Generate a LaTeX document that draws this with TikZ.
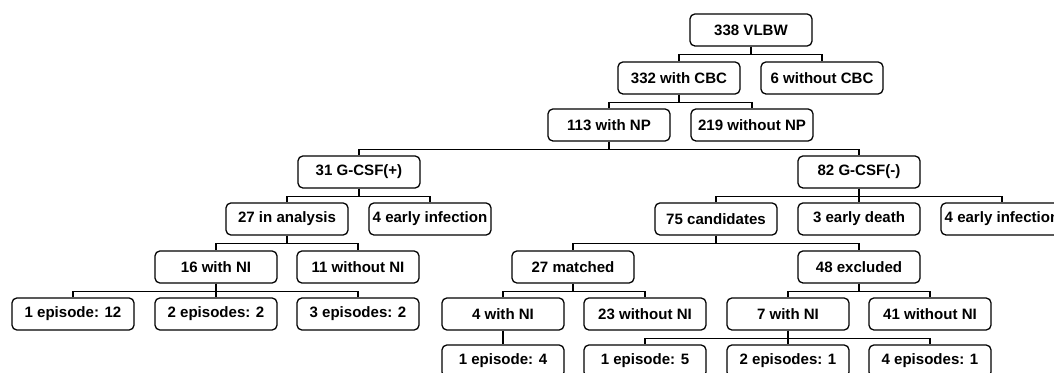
\documentclass[tikz,border=0pt]{standalone}
\usepackage{fontspec}
\setmainfont{Liberation Sans}
\usetikzlibrary{calc}

\begin{document}
\begin{tikzpicture}[x=0.025cm, y=-0.025cm,
		every node/.style={font=\bfseries\fontsize{10.7}{12}\selectfont},
		box/.style={draw, line width=0.9pt, rounded corners=3.5pt, minimum width=3.05cm, minimum height=0.8cm, inner sep=0pt},
		link/.style={line width=0.9pt}]
				\useasboundingbox (0,0) rectangle (1054,373);
				\clip (0,0) rectangle (1054,373);
				% top of the tree
				\node[box] (vlbw) at (751,30) {338 VLBW};
				\node[box] (cbc) at (679,78) {332 with CBC};
				\node[box] (nocbc) at (822,78) {6 without CBC};
				\node[box] (np) at (609,125) {113 with NP};
				\node[box] (nonp) at (752,125) {219 without NP};
				\node[box] (gplus) at (359,172) {31 G-CSF(+)};
				\node[box] (gminus) at (859,172) {82 G-CSF(-)};
				% G-CSF(+) branch
				\node[box] (analysis) at (287,219) {27 in analysis};
				\node[box] (infA) at (430,219) {4 early infection};
				\node[box] (niA) at (216,267) {16 with NI};
				\node[box] (noniA) at (358,267) {11 without NI};
				\node[box] (epA1) at (73,314) {1 episode: 12};
				\node[box] (epA2) at (216,314) {2 episodes: 2};
				\node[box] (epA3) at (358,314) {3 episodes: 2};
				% G-CSF(-) branch
				\node[box] (cand) at (716,219) {75 candidates};
				\node[box] (death) at (859,219) {3 early death};
				\node[box] (infB) at (1002,219) {4 early infection};
				\node[box] (matched) at (573,267) {27 matched};
				\node[box] (excluded) at (859,267) {48 excluded};
				\node[box] (niB) at (503,314) {4 with NI};
				\node[box] (noniB) at (645,314) {23 without NI};
				\node[box] (niC) at (788,314) {7 with NI};
				\node[box] (noniC) at (930,314) {41 without NI};
				\node[box] (epB1) at (503,361) {1 episode: 4};
				\node[box] (epC1) at (645,361) {1 episode: 5};
				\node[box] (epC2) at (788,361) {2 episodes: 1};
				\node[box] (epC4) at (930,361) {4 episodes: 1};
				% connectors
				\foreach \p/\c in {vlbw/cbc, vlbw/nocbc, cbc/np, cbc/nonp, np/gplus, np/gminus,
					gplus/analysis, gplus/infA, analysis/niA, analysis/noniA,
					niA/epA1, niA/epA2, niA/epA3,
					gminus/cand, gminus/death, gminus/infB, cand/matched, cand/excluded,
					matched/niB, matched/noniB, excluded/niC, excluded/noniC,
					niB/epB1, niC/epC1, niC/epC2, niC/epC4}
					\draw[link] (\p.south) -- ++(0,8) -| (\c.north);
			\end{tikzpicture}
\end{document}
